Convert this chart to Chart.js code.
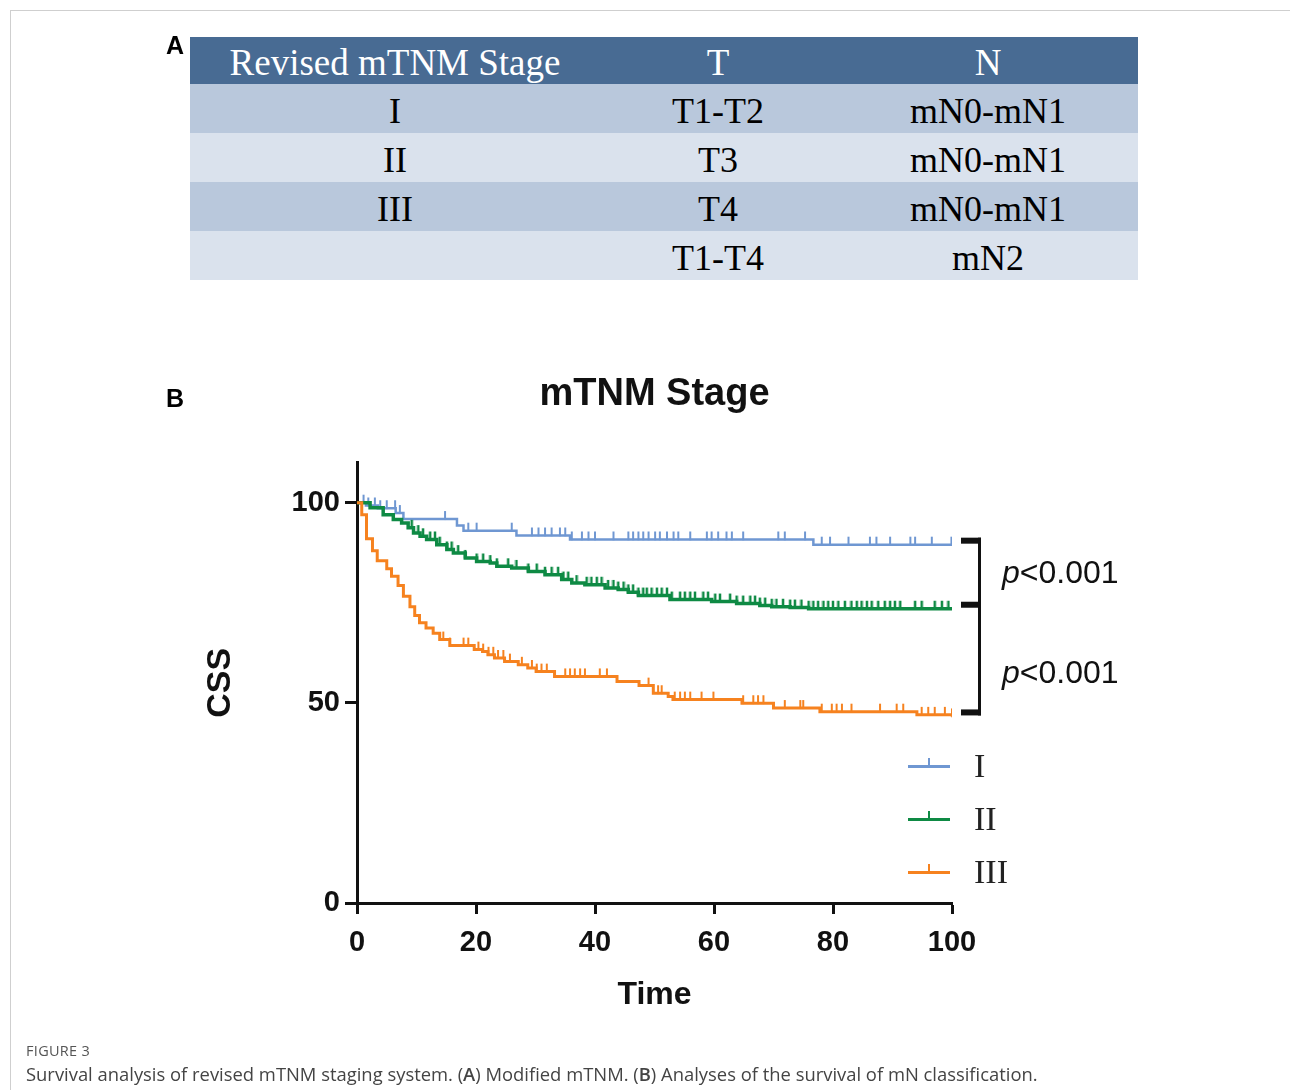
<!DOCTYPE html>
<html>
<head>
<meta charset="utf-8">
<script src="https://cdn.jsdelivr.net/npm/chart.js@4.4.1/dist/chart.umd.min.js"></script>
<style>
  html, body { margin:0; padding:0; background:#fff; }
  body { width:1290px; height:1090px; position:relative; overflow:hidden; }
  #frame { position:absolute; left:10px; top:10px; right:0; bottom:0; border-left:1px solid #cfcfcf; border-top:1px solid #cfcfcf; }
  #c { position:absolute; left:0; top:0; }
  .panel { position:absolute; font-family:'Liberation Sans', Arial, sans-serif; font-weight:bold; font-size:25px; line-height:1; color:#000; }
  #tbl { position:absolute; left:190px; top:37px; width:948px; font-family:'Liberation Serif','Times New Roman',serif; font-size:36px; }
  .row { display:flex; height:49px; align-items:center; }
  .row div { text-align:center; position:relative; top:2px; }
  .c1 { width:410px; } .c2 { width:238px; margin-left:-1px;} .c3 { width:300px; margin-left:1px;}
  .hdr { background:#486b93; color:#fff; height:47px; font-size:37px; }
  .odd { background:#b9c8dc; }
  .even { background:#dae2ed; }
  .pval { position:absolute; left:1002px; font-family:'Liberation Sans', Arial, sans-serif; font-size:32px; line-height:32px; height:32px; color:#111; }
  #legend { position:absolute; left:908px; top:740px; }
  .lg { position:relative; height:53px; width:120px; }
  .lg .sym { position:absolute; left:0; top:25px; width:42px; height:3px; }
  .lg .tk { position:absolute; left:20px; top:-7px; width:2px; height:8px; }
  .lg .lab { position:absolute; left:66px; top:6px; font-family:'Liberation Serif','Times New Roman',serif; font-size:34px; line-height:40px; color:#222; }
  #fig { position:absolute; left:26px; top:1041px; font-family:'Open Sans', sans-serif; font-size:14.5px; color:#555; letter-spacing:0.3px; }
  #cap { position:absolute; left:26px; top:1061px; font-family:'Open Sans', sans-serif; font-size:18.4px; color:#444; white-space:nowrap; }
</style>
</head>
<body>
<div id="frame"></div>
<canvas id="c" width="1290" height="1090"></canvas>
<div class="panel" style="left:166px; top:33px;">A</div>
<div class="panel" style="left:166px; top:386px;">B</div>
<div id="tbl"></div>
<div class="pval" style="top:556px;"><i>p</i>&lt;0.001</div>
<div class="pval" style="top:656px;"><i>p</i>&lt;0.001</div>
<div id="legend"></div>
<div id="fig">FIGURE 3</div>
<div id="cap">Survival analysis of revised mTNM staging system. (<b style="font-weight:600">A</b>) Modified mTNM. (<b style="font-weight:600">B</b>) Analyses of the survival of mN classification.</div>

<script>
// ---------- Table (panel A) ----------
const tableHeader = ['Revised mTNM Stage', 'T', 'N'];
const tableStage = ['I', 'II', 'III', ''];
const tableT = ['T1-T2', 'T3', 'T4', 'T1-T4'];
const tableN = ['mN0-mN1', 'mN0-mN1', 'mN0-mN1', 'mN2'];

// ---------- Survival data (panel B) ----------
const seriesLabels = ['I', 'II', 'III'];
// step change points: time, CSS (%)
const timesI = [0, 1.5, 3.5, 6.5, 7.8, 16.8, 17.9, 26.8, 35.8, 76.7, 100];
const survI  = [100, 99.3, 98.6, 97.4, 95.9, 94.3, 93.0, 91.8, 90.8, 89.5, 89.5];
const timesII = [0, 2.2, 4.4, 6.1, 7.5, 8.6, 9.5, 10.6, 11.7, 13.4, 15.1, 16.2, 18.2, 20.1, 22.4, 23.5, 26.0, 28.8, 31.6, 34.4, 36.1, 38.3, 41.7, 43.9, 45.6, 47.3, 52.6, 59.6, 63.8, 67.7, 69.7, 72.8, 75.9, 100];
const survII  = [100, 98.7, 97.0, 95.8, 94.9, 93.7, 92.4, 91.6, 90.8, 89.5, 88.3, 87.4, 86.2, 85.3, 84.9, 84.1, 83.7, 82.8, 82.0, 80.8, 79.9, 79.5, 78.7, 78.3, 77.6, 76.8, 75.8, 75.3, 74.8, 74.3, 74.0, 73.8, 73.5, 73.5];
const timesIII = [0, 0.8, 1.6, 2.6, 3.4, 5.0, 5.8, 6.9, 7.8, 8.9, 9.7, 10.5, 11.6, 12.8, 13.9, 15.6, 19.7, 21.1, 22.0, 23.1, 24.8, 27.1, 28.7, 30.1, 33.2, 43.7, 47.4, 49.8, 52.3, 53.1, 64.7, 70.0, 77.8, 94.1, 100];
const survIII  = [100, 97.0, 91.0, 88.0, 85.5, 83.5, 81.6, 79.3, 76.6, 74.0, 71.8, 70.0, 68.7, 67.4, 65.8, 64.3, 63.3, 62.8, 62.0, 61.2, 60.3, 59.5, 58.7, 57.8, 56.6, 55.3, 54.3, 52.4, 51.6, 50.8, 49.9, 48.7, 47.8, 47.0, 46.6];
// censoring times
const censI = [1.1, 1.9, 3.0, 3.9, 5.0, 6.4, 7.2, 14.8, 18.7, 20.1, 26.0, 29.4, 30.5, 31.6, 32.7, 34.1, 35.0, 36.1, 37.8, 38.9, 40.0, 43.1, 45.6, 46.4, 47.3, 48.1, 49.0, 50.1, 50.9, 52.1, 53.2, 54.0, 56.0, 58.8, 59.6, 60.7, 62.1, 63.0, 64.9, 70.8, 71.9, 75.3, 78.1, 79.5, 82.6, 86.2, 87.3, 89.6, 93.0, 93.8, 96.6, 99.9];
const censII = [9.2, 10.3, 11.1, 12.3, 13.1, 13.9, 15.1, 15.9, 17.0, 18.2, 20.1, 21.2, 22.4, 23.5, 25.4, 26.8, 28.8, 30.2, 31.6, 32.7, 33.8, 34.7, 35.5, 36.9, 38.6, 39.4, 40.3, 41.1, 42.2, 43.1, 43.9, 44.8, 45.6, 46.4, 47.3, 48.1, 48.7, 49.5, 50.4, 51.2, 52.1, 52.9, 54.3, 55.1, 56.0, 56.8, 58.2, 59.0, 60.2, 61.0, 62.7, 63.8, 64.9, 66.1, 66.9, 67.7, 68.6, 69.7, 70.5, 71.6, 72.8, 73.6, 74.7, 75.9, 76.7, 77.5, 78.4, 79.2, 80.0, 80.9, 82.0, 83.1, 84.0, 84.8, 85.7, 86.5, 87.6, 88.7, 89.6, 90.4, 91.3, 93.8, 94.9, 97.1, 98.3, 99.4];
const censIII = [14.5, 15.6, 17.9, 18.7, 20.4, 21.2, 22.1, 22.9, 23.7, 24.6, 25.7, 27.7, 29.4, 30.2, 31.0, 31.9, 35.0, 35.8, 36.6, 37.5, 38.3, 40.8, 42.0, 49.0, 50.6, 51.2, 53.4, 54.3, 55.1, 56.0, 57.9, 59.9, 64.9, 66.6, 67.4, 68.3, 71.9, 74.5, 75.0, 78.1, 79.8, 80.6, 81.5, 83.1, 87.9, 90.7, 91.8, 94.9, 96.0, 97.1, 98.8, 100];
const xTicks = [0, 20, 40, 60, 80, 100];
const yTicks = [0, 50, 100];

// ---------- styles ----------
const colors = ['#6f97d2', '#0e8a44', '#f6821f'];
const widths = [2.5, 3.5, 3];

// build table
const tbl = document.getElementById('tbl');
function addRow(cls, a, b, c) {
  const r = document.createElement('div'); r.className = 'row ' + cls;
  [a, b, c].forEach((t, i) => { const d = document.createElement('div'); d.className = 'c' + (i + 1); d.textContent = t; r.appendChild(d); });
  tbl.appendChild(r);
}
addRow('hdr', tableHeader[0], tableHeader[1], tableHeader[2]);
tableStage.forEach((s, i) => addRow(i % 2 === 0 ? 'odd' : 'even', s, tableT[i], tableN[i]));

// legend
const lg = document.getElementById('legend');
seriesLabels.forEach((l, i) => {
  const r = document.createElement('div'); r.className = 'lg';
  r.innerHTML = '<div class="sym" style="background:' + colors[i] + '"><div class="tk" style="background:' + colors[i] + '"></div></div><div class="lab">' + l + '</div>';
  lg.appendChild(r);
});

function stepPts(ts, ss) { return ts.map((t, i) => ({ x: t, y: ss[i] })); }
function valAt(ts, ss, t) { let v = ss[0]; for (let i = 0; i < ts.length; i++) { if (ts[i] <= t) v = ss[i]; } return v; }
function censPts(cs, ts, ss) { return cs.map(t => ({ x: t, y: valAt(ts, ss, t) })); }
function tickImg(color, w) {
  const c = document.createElement('canvas'); c.width = 4; c.height = 18;
  const x = c.getContext('2d'); x.strokeStyle = color; x.lineWidth = w; x.beginPath(); x.moveTo(2, 1); x.lineTo(2, 9.5); x.stroke();
  return c;
}

const allT = [timesI, timesII, timesIII], allS = [survI, survII, survIII], allC = [censI, censII, censIII];
const datasets = [];
for (let i = 0; i < 3; i++) {
  datasets.push({ type: 'line', label: seriesLabels[i], data: stepPts(allT[i], allS[i]), stepped: 'before', borderColor: colors[i], borderWidth: widths[i], pointRadius: 0, fill: false, order: 3 - i });
  datasets.push({ type: 'scatter', label: seriesLabels[i] + ' censored', data: censPts(allC[i], allT[i], allS[i]), pointStyle: tickImg(colors[i], i === 1 ? 2.5 : 2), pointRadius: 5, showLine: false, order: 3 - i });
}

const bracketPlugin = {
  id: 'brackets',
  afterDraw(chart) {
    const ctx = chart.ctx, y = chart.scales.y, area = chart.chartArea;
    const ends = allS.map(s => y.getPixelForValue(s[s.length - 1]) - 4);
    const x0 = area.right + 9, x1 = area.right + 29;
    ctx.save(); ctx.fillStyle = '#111';
    ctx.fillRect(x0, ends[0] - 3, x1 - x0, 6);
    ctx.fillRect(x0, ends[1] - 3, x1 - x0 - 2, 6);
    ctx.fillRect(x0, ends[2] - 3, x1 - x0, 6);
    ctx.fillRect(x1 - 3, ends[0] - 3, 3, ends[2] - ends[0] + 6);
    ctx.restore();
  }
};

const FONT = "'Liberation Sans', Arial, sans-serif";
new Chart(document.getElementById('c'), {
  data: { datasets },
  options: {
    responsive: false, animation: false, devicePixelRatio: 1,
    layout: { padding: { left: 0, right: 338, top: 0, bottom: 0 } },
    plugins: {
      legend: { display: false }, tooltip: { enabled: false },
      title: { display: true, text: 'mTNM Stage', fullSize: false, color: '#111', font: { family: FONT, size: 38, weight: 'bold' }, padding: { top: 372, bottom: 45 } }
    },
    scales: {
      x: {
        type: 'linear', min: 0, max: 100,
        afterBuildTicks: s => { s.ticks = xTicks.map(v => ({ value: v })); },
        afterFit: s => { s.height = 187; },
        ticks: { color: '#111', font: { family: FONT, size: 29, weight: 'bold' }, padding: 12, maxRotation: 0 },
        grid: { drawOnChartArea: false, drawTicks: true, tickLength: 11, tickWidth: 3, tickColor: '#111' },
        border: { display: true, color: '#111', width: 3 },
        title: { display: true, text: 'Time', color: '#111', font: { family: FONT, size: 32, weight: 'bold' }, padding: { top: 0, bottom: 76 } }
      },
      y: {
        type: 'linear', min: 0, max: 110,
        afterBuildTicks: s => { s.ticks = yTicks.map(v => ({ value: v })); },
        afterFit: s => { s.width = 357; },
        ticks: { color: '#111', font: { family: FONT, size: 29, weight: 'bold' }, padding: 5 },
        grid: { drawOnChartArea: false, drawTicks: true, tickLength: 12, tickWidth: 3, tickColor: '#111' },
        border: { display: true, color: '#111', width: 3 },
        title: { display: true, text: 'CSS', color: '#111', font: { family: FONT, size: 34, weight: 'bold' }, padding: { top: 200, bottom: 0 } }
      }
    }
  },
  plugins: [bracketPlugin]
});
</script>
</body>
</html>
